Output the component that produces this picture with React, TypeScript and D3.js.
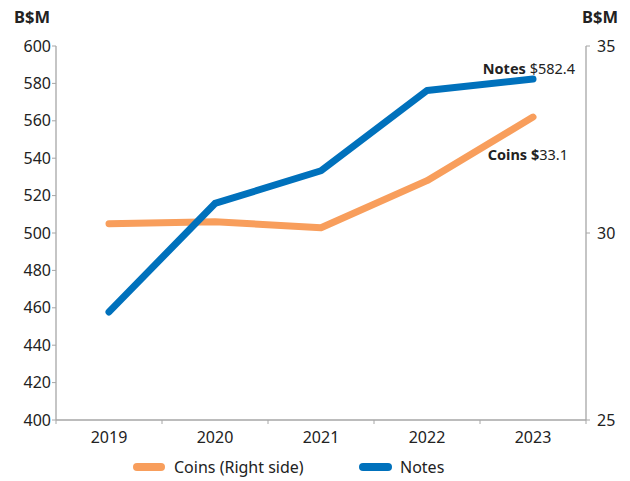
import React from "react";
import * as d3 from "d3";

const years = ["2019", "2020", "2021", "2022", "2023"];
const notes = [457.8, 515.8, 533.3, 576.2, 582.4];
const coins = [30.25, 30.3, 30.14, 31.4, 33.1];
const leftTicks = [400, 420, 440, 460, 480, 500, 520, 540, 560, 580, 600];
const rightTicks = [25, 30, 35];

const W = 630, H = 481;
const m = { left: 56, right: 586, top: 46, bottom: 420 };
const BLUE = "#0071BC";
const ORANGE = "#F89E5C";
const AXIS = "#a6a6a6";
const FONT = "'Source Sans Pro','Noto Sans',sans-serif";

export default function App() {
  const x = d3.scaleBand<string>().domain(years).range([m.left, m.right]);
  const yL = d3.scaleLinear().domain([400, 600]).range([m.bottom, m.top]);
  const yR = d3.scaleLinear().domain([25, 35]).range([m.bottom, m.top]);
  const cx = (d: string) => (x(d) as number) + x.bandwidth() / 2;
  const notesLine = d3.line<number>().x((_, i) => cx(years[i])).y((d) => yL(d));
  const coinsLine = d3.line<number>().x((_, i) => cx(years[i])).y((d) => yR(d));
  const bounds = [...years.map((d) => x(d) as number), m.right];

  return (
    <svg width={W} height={H} style={{ position: "absolute", left: 0, top: 0, fontFamily: FONT }}>
      <rect width={W} height={H} fill="#fff" />
      <text x={14} y={23} fontSize={16.5} fontWeight="bold" fill="#222">B$M</text>
      <text x={582} y={23} fontSize={16.5} fontWeight="bold" fill="#222">B$M</text>
      {/* left axis */}
      <line x1={m.left} x2={m.left} y1={m.top} y2={m.bottom} stroke={AXIS} strokeWidth={1.3} />
      {leftTicks.map((t) => (
        <g key={t}>
          <line x1={m.left - 4} x2={m.left} y1={yL(t)} y2={yL(t)} stroke={AXIS} />
          <text x={m.left - 5} y={yL(t)} dy="0.35em" textAnchor="end" fontSize={16} fill="#222">{t}</text>
        </g>
      ))}
      {/* right axis */}
      <line x1={m.right} x2={m.right} y1={m.top} y2={m.bottom} stroke={AXIS} strokeWidth={1.3} />
      {rightTicks.map((t) => (
        <g key={t}>
          <line x1={m.right} x2={m.right + 4} y1={yR(t)} y2={yR(t)} stroke={AXIS} />
          <text x={m.right + 11} y={yR(t)} dy="0.35em" textAnchor="start" fontSize={16} fill="#222">{t}</text>
        </g>
      ))}
      {/* x axis */}
      <line x1={m.left} x2={m.right} y1={m.bottom} y2={m.bottom} stroke={AXIS} strokeWidth={1.3} />
      {bounds.map((b, i) => (
        <line key={i} x1={b} x2={b} y1={m.bottom} y2={m.bottom + 4} stroke={AXIS} />
      ))}
      {years.map((y) => (
        <text key={y} x={cx(y)} y={m.bottom + 23} textAnchor="middle" fontSize={16} fill="#222">{y}</text>
      ))}
      {/* lines */}
      <path d={coinsLine(coins) as string} fill="none" stroke={ORANGE} strokeWidth={7} strokeLinecap="round" strokeLinejoin="round" />
      <path d={notesLine(notes) as string} fill="none" stroke={BLUE} strokeWidth={7} strokeLinecap="round" strokeLinejoin="round" />
      {/* labels */}
      <text x={575} y={74} textAnchor="end" fontSize={14.5} fill="#222">
        <tspan fontWeight="bold">Notes</tspan> ${notes[4].toFixed(1)}
      </text>
      <text x={568} y={160} textAnchor="end" fontSize={14.5} fill="#222">
        <tspan fontWeight="bold">Coins $</tspan>{coins[4].toFixed(1)}
      </text>
      {/* legend */}
      <line x1={137} x2={161} y1={467} y2={467} stroke={ORANGE} strokeWidth={8} strokeLinecap="round" />
      <text x={174} y={467} dy="0.35em" fontSize={16} fill="#222">Coins (Right side)</text>
      <line x1={363} x2={388} y1={467} y2={467} stroke={BLUE} strokeWidth={8} strokeLinecap="round" />
      <text x={400} y={467} dy="0.35em" fontSize={16} fill="#222">Notes</text>
    </svg>
  );
}
